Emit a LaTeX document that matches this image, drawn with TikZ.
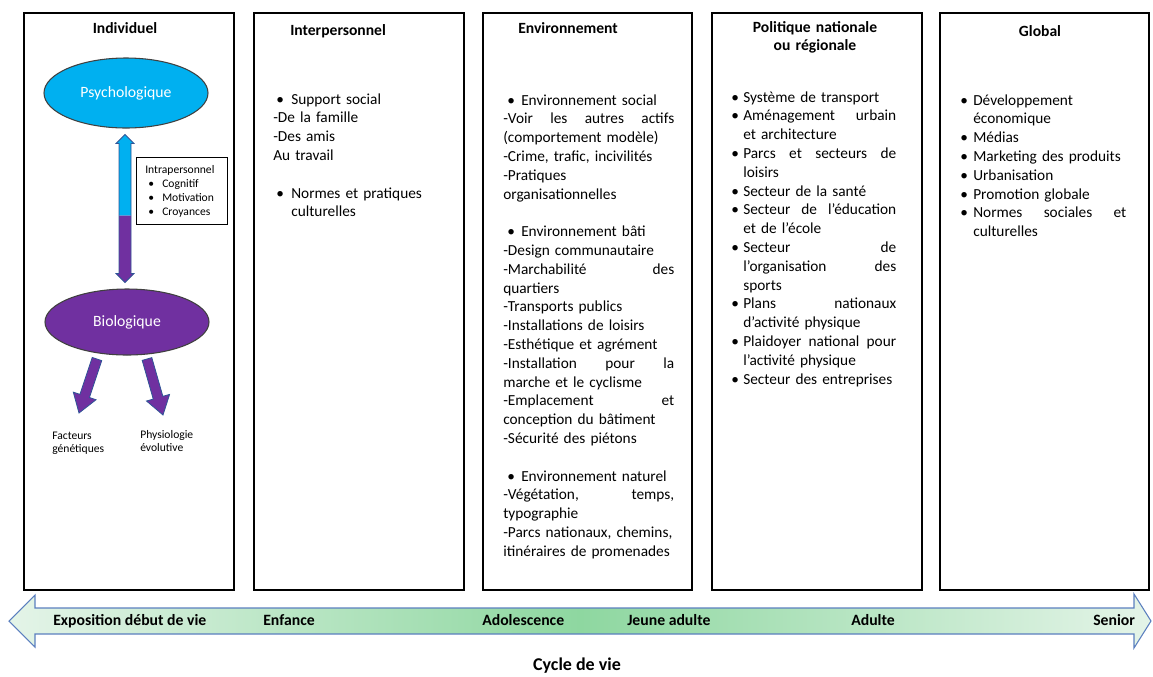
\documentclass[tikz,border=0pt]{standalone}
\usepackage{fontspec}
\setmainfont{Carlito}
\usetikzlibrary{shapes.geometric,calc}
\definecolor{psyc}{HTML}{00B0F0}
\definecolor{bioc}{HTML}{7030A0}
\definecolor{arrline}{HTML}{2F5597}
\definecolor{bandlight}{HTML}{E4F4E8}
\definecolor{bandmid}{HTML}{8ED7A0}
\definecolor{bandline}{HTML}{5B7FBF}
\newcommand{\bl}[1]{\makebox[#1][l]{\textbullet}}
\newcommand{\jb}[2]{\leavevmode\hbox to #1{#2}}
\tikzset{
  panel/.style={draw=black, line width=1.4pt, anchor=north west, minimum height=432.75pt, inner sep=0pt},
  ttl/.style={font=\fontsize{11.7pt}{14.1pt}\selectfont\bfseries, inner sep=0pt, anchor=base, align=center},
  txt/.style={inner sep=0pt, anchor=base west, align=left, font=\fontsize{11.5pt}{14.1pt}\selectfont},
  small/.style={inner sep=0pt, anchor=base west, align=left, text width=64pt, font=\fontsize{8.7pt}{10.5pt}\selectfont},
  blob/.style={ellipse, draw=black!75, line width=0.8pt, text=white, font=\fontsize{11.8pt}{14pt}\selectfont, inner sep=0pt},
  band/.style={font=\fontsize{11.8pt}{14.1pt}\selectfont\bfseries, inner sep=0pt, anchor=base west},
  arrout/.style={draw=arrline, line width=0.6pt, line join=miter},
}
\begin{document}
\begin{tikzpicture}[x=0.75pt,y=-0.75pt]
\useasboundingbox (0,0) rectangle (1153,676);

% panels
\node[panel, minimum width=157.5pt] (p1) at (23,12) {};
\node[panel, minimum width=157.5pt] (p2) at (253,12) {};
\node[panel, minimum width=156.75pt] (p3) at (482,12) {};
\node[panel, minimum width=157.5pt] (p4) at (711,12) {};
\node[panel, minimum width=156.75pt] (p5) at (939,12) {};

% titles
\node[ttl] (t1) at (125,33) {Individuel};
\node[ttl, anchor=base west] (t2) at (290,35) {Interpersonnel};
\node[ttl, anchor=base west] (t3) at (518,33) {Environnement};
\node[ttl, text width=140pt] (t4) at (815,32) {Politique nationale\\ou régionale};
\node[ttl] (t5) at (1040,36) {Global};

% Individuel panel
\node[blob, fill=psyc, minimum width=123pt, minimum height=52.5pt] (psy) at (126,93) {Psychologique};
\node[blob, fill=bioc, minimum width=123pt, minimum height=49.5pt] (bio) at (127,322) {Biologique};

\coordinate (vt) at ($(psy.south)+(-1,6)$);
\fill[psyc] (vt) -- ++(9,9) -- ++(-3,0) -- ++(0,72) -- ++(-12,0) -- ++(0,-72) -- ++(-3,0) -- cycle;
\fill[bioc] ($(vt)+(-6,81)$) -- ++(12,0) -- ++(0,58) -- ++(3,0) -- ++(-9,9) -- ++(-9,-9) -- ++(3,0) -- cycle;
\draw[arrout] (vt) -- ++(9,9) -- ++(-3,0) -- ++(0,130) -- ++(3,0) -- ++(-9,9) -- ++(-9,-9) -- ++(3,0) -- ++(0,-130) -- ++(-3,0) -- cycle;

\node[draw=black, line width=0.7pt, anchor=north west, minimum width=68.25pt, minimum height=50.25pt, inner sep=0pt] (intra) at (136,157) {};
\node[small] (intratxt) at ($(intra.north west)+(9,16)$) {Intrapersonnel\\
\hspace*{2.25pt}\bl{10.5pt}Cognitif\\
\hspace*{2.25pt}\bl{10.5pt}Motivation\\
\hspace*{2.25pt}\bl{10.5pt}Croyances};

% fat arrows from Biologique
\coordinate (a1) at ($(bio.center)+(-30,37)$);
\coordinate (b1) at ($(bio.center)+(-48,91)$);
\coordinate (a2) at ($(bio.center)+(20,37)$);
\coordinate (b2) at ($(bio.center)+(36,93)$);
\foreach \s/\e in {a1/b1,a2/b2}{
  \coordinate (h) at ($(\e)!13.5pt!(\s)$);
  \filldraw[fill=bioc, arrout]
    ($(\s)!3.75pt!90:(\e)$) -- ($(h)!3.75pt!-90:(\s)$) -- ($(h)!9pt!-90:(\s)$) -- (\e)
    -- ($(h)!9pt!90:(\s)$) -- ($(h)!3.75pt!90:(\s)$) -- ($(\s)!3.75pt!-90:(\e)$) -- cycle;
}
\node[small, font=\fontsize{8.7pt}{9.75pt}\selectfont] (gen) at (52,439) {Facteurs\\génétiques};
\node[small, font=\fontsize{8.7pt}{9.75pt}\selectfont] (phy) at (140,438) {Physiologie\\évolutive};

% Interpersonnel
\node[txt, text width=135pt] (c2) at (273,104) {%
\hspace*{2.25pt}\bl{11.25pt}Support social\\
-De la famille\\
-Des amis\\
Au travail\\[14.1pt]
\hspace*{2.25pt}\bl{11.25pt}Normes et pratiques\\
\hspace*{13.5pt}culturelles};

% Environnement
\node[txt, text width=128.25pt] (c3) at (503,105) {%
\hspace*{3pt}\bl{10.5pt}Environnement social\\
\jb{128.25pt}{-Voir\hfill les\hfill autres\hfill actifs}\\
(comportement modèle)\\
-Crime, trafic, incivilités\\
-Pratiques\\
organisationnelles\\[14.1pt]
\hspace*{3pt}\bl{10.5pt}Environnement bâti\\
-Design communautaire\\
\jb{128.25pt}{-Marchabilité\hfill des}\\
quartiers\\
-Transports publics\\
-Installations de loisirs\\
-Esthétique et agrément\\
\jb{128.25pt}{-Installation\hfill pour\hfill la}\\
marche et le cyclisme\\
\jb{128.25pt}{-Emplacement\hfill et}\\
conception du bâtiment\\
-Sécurité des piétons\\[14.1pt]
\hspace*{3pt}\bl{10.5pt}Environnement naturel\\
\jb{128.25pt}{-Végétation,\hfill temps,}\\
typographie\\
-Parcs nationaux, chemins,\\
itinéraires de promenades};

% Politique
\node[txt, text width=123.75pt] (c4) at (731,102) {%
\bl{9pt}Système de transport\\
\bl{9pt}\jb{114.75pt}{Aménagement\hfill urbain}\\
\hspace*{9pt}et architecture\\
\bl{9pt}\jb{114.75pt}{Parcs\hfill et\hfill secteurs\hfill de}\\
\hspace*{9pt}loisirs\\
\bl{9pt}Secteur de la santé\\
\bl{9pt}\jb{114.75pt}{Secteur\hfill de\hfill l’éducation}\\
\hspace*{9pt}et de l’école\\
\bl{9pt}\jb{114.75pt}{Secteur\hfill de}\\
\hspace*{9pt}\jb{114.75pt}{l’organisation\hfill des}\\
\hspace*{9pt}sports\\
\bl{9pt}\jb{114.75pt}{Plans\hfill nationaux}\\
\hspace*{9pt}d’activité physique\\
\bl{9pt}\jb{114.75pt}{Plaidoyer\hfill national\hfill pour}\\
\hspace*{9pt}l'activité physique\\
\bl{9pt}Secteur des entreprises};

% Global
\node[txt, text width=124.5pt] (c5) at (960,105) {%
\bl{9.75pt}Développement\\
\hspace*{9.75pt}économique\\
\bl{9.75pt}Médias\\
\bl{9.75pt}Marketing des produits\\
\bl{9.75pt}Urbanisation\\
\bl{9.75pt}Promotion globale\\
\bl{9.75pt}\jb{114.75pt}{Normes\hfill sociales\hfill et}\\
\hspace*{9.75pt}culturelles};

% life-course band
\shadedraw[draw=bandline, line width=0.8pt, line join=miter, left color=bandlight, right color=bandlight, middle color=bandmid]
  (9,621) -- (35,595) -- (35,608) -- (1134,608) -- (1134,594) -- (1151,621) -- (1134,648) -- (1134,634) -- (35,634) -- (35,647) -- cycle;
\node[band] (l1) at (53,625) {Exposition début de vie};
\node[band] (l2) at (263,625) {Enfance};
\node[band] (l3) at (482,625) {Adolescence};
\node[band] (l4) at (627,625) {Jeune adulte};
\node[band] (l5) at (851,625) {Adulte};
\node[band] (l6) at (1093,625) {Senior};
\node[ttl, font=\fontsize{13.5pt}{16pt}\selectfont\bfseries] (cyc) at (577,670) {Cycle de vie};
\end{tikzpicture}
\end{document}
